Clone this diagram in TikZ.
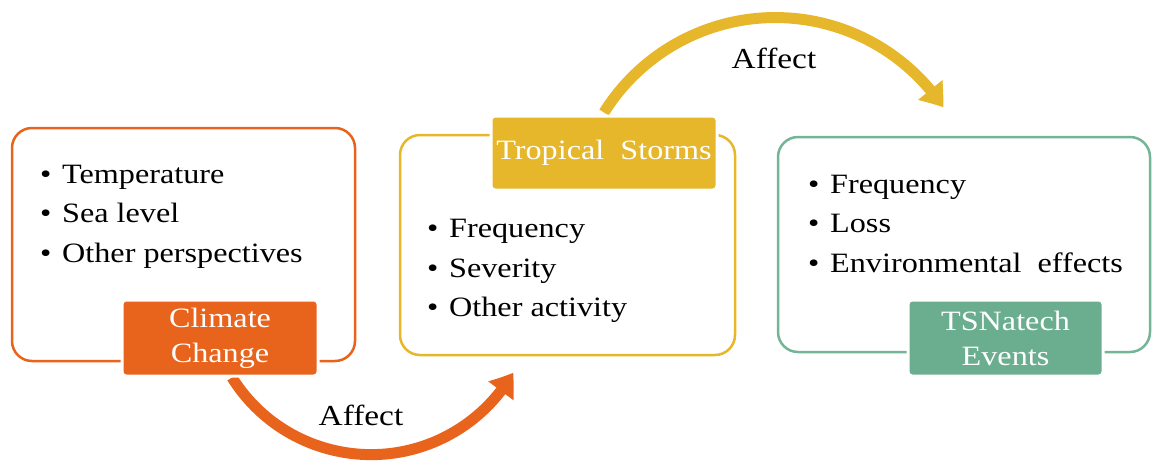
\documentclass[tikz,border=0pt]{standalone}
\usepackage{fontspec}
\setmainfont{Liberation Serif}[FakeStretch=1.15]
\usetikzlibrary{arrows.meta,bending}
\definecolor{corange}{RGB}{232,100,28}
\definecolor{cyellow}{RGB}{230,183,43}
\definecolor{cgreen}{RGB}{106,174,143}
\definecolor{cgreenline}{RGB}{116,180,151}
\pgfdeclarelayer{bg}
\pgfsetlayers{bg,main}
\begin{document}
\begin{tikzpicture}[x=1pt,y=-1pt,
  bigbox/.style={draw=#1, line width=2.5pt, rounded corners=20pt, fill=white, inner sep=0pt},
  tag/.style={fill=#1, draw=white, line width=3pt, rounded corners=4pt, text=white,
    font=\fontsize{28}{35}\selectfont, align=center, inner sep=0pt},
  item/.style={anchor=base west, inner sep=0pt, font=\fontsize{28}{34}\selectfont},
  verb/.style={anchor=base, inner sep=0pt, font=\fontsize{29}{34}\selectfont},
  bigarrow/.style={draw=#1, line width=11pt, -{Triangle[length=22pt,width=30pt,bend]}}
]
\useasboundingbox (0,0) rectangle (1153,464);

% big boxes
\begin{pgfonlayer}{bg}
\node[bigbox=corange, minimum width=343pt, minimum height=233pt] (b1) at (183.5,244.5) {};
\node[bigbox=cyellow, minimum width=335pt, minimum height=220pt] (b2) at (567.5,245) {};
\node[bigbox=cgreenline, minimum width=372pt, minimum height=215pt] (b3) at (964,244.5) {};
\end{pgfonlayer}

% lists
\node[item] (c1) at (40,183) {\makebox[22pt][l]{\textbullet}Temperature};
\node[item] (c2) at (40,222) {\makebox[22pt][l]{\textbullet}Sea level};
\node[item] (c3) at (40,262) {\makebox[22pt][l]{\textbullet}Other perspectives};

\node[item] (t1) at (427,237) {\makebox[22pt][l]{\textbullet}Frequency};
\node[item] (t2) at (427,277) {\makebox[22pt][l]{\textbullet}Severity};
\node[item] (t3) at (427,316) {\makebox[22pt][l]{\textbullet}Other activity};

\node[item] (e1) at (808,193) {\makebox[22pt][l]{\textbullet}Frequency};
\node[item] (e2) at (808,232) {\makebox[22pt][l]{\textbullet}Loss};
\node[item] (e3) at (808,272) {\makebox[22pt][l]{\textbullet}Environmental\ \ effects};

% tags
\node[tag=corange, minimum width=196pt, minimum height=76pt] (cc) at (220,338) {Climate\\Change};
\node[tag=cyellow, minimum width=226pt, minimum height=74pt] (ts) at (604,153) {Tropical\ \ Storms};
\node[tag=cgreen, minimum width=195pt, minimum height=76pt] (te) at (1005.5,338) {TSNatech\\Events};

% arrows
\begin{pgfonlayer}{bg}
\path[bigarrow=corange] ([xshift=12pt]cc.south) arc[start angle=212, end angle=330, radius=164pt];
\path[bigarrow=cyellow] ([yshift=2pt]ts.north) arc[start angle=148, end angle=33.7, radius=202pt];
\end{pgfonlayer}

% labels
\node[verb] (a1) at (361,425) {Affect};
\node[verb] (a2) at (774,68) {Affect};
\end{tikzpicture}
\end{document}
